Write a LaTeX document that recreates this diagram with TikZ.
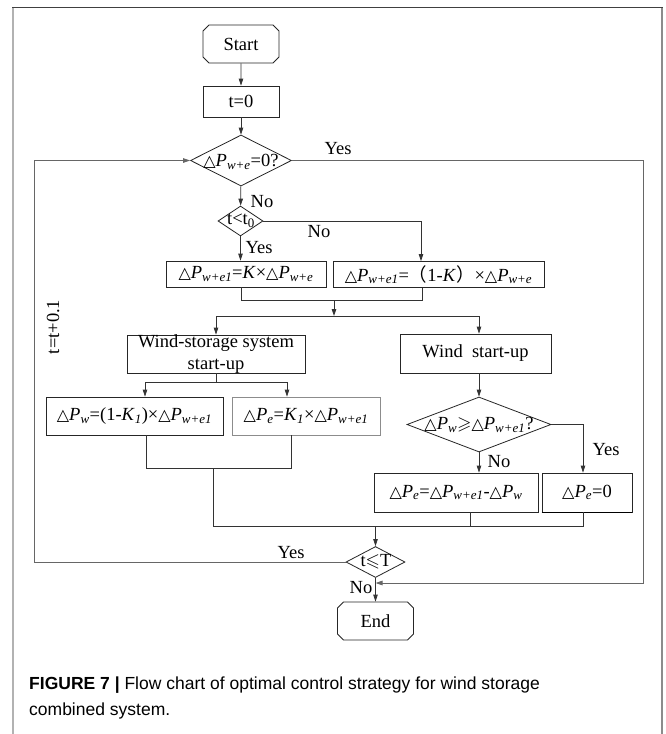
\documentclass[tikz,border=0pt]{standalone}
\usepackage{fontspec}
\usepackage{amssymb}
\setmainfont{Liberation Serif}
\newfontfamily\symfont{DejaVu Sans}
\newfontfamily\capfont{Liberation Sans}
\newfontfamily\cjkfont{Noto Sans CJK SC}
\usetikzlibrary{shapes.geometric,shapes.misc,arrows.meta}
\newcommand\tri{{\symfont\fontsize{16}{18}\selectfont △}}
\newcommand\DP[1]{\tri\textit{P}\textsubscript{\textit{#1}}}
\begin{document}
\begin{tikzpicture}[x=1pt,y=-1pt,
  every node/.style={font=\fontsize{18.5}{21}\selectfont},
  boxn/.style={draw=black!85, line width=0.8pt, rectangle, inner sep=0pt},
  term/.style={draw=black!85, line width=0.8pt, chamfered rectangle, chamfered rectangle xsep=3pt, chamfered rectangle ysep=3pt, inner sep=0pt, minimum width=76pt, minimum height=38pt},
  dia/.style={draw=black!85, line width=0.8pt, diamond, inner sep=0pt},
  lbl/.style={inner sep=0pt},
  line/.style={draw=black!80, line width=0.8pt},
  loopline/.style={draw=black!60, line width=1pt},
  arr/.style={line, -{Triangle[length=7pt,width=4.5pt]}},
]
\useasboundingbox (0,0) rectangle (665,734);
\fill[white] (0,0) rectangle (665,734);
% frame
\draw[black!30, line width=2pt] (13,7) -- (13,734);
\draw[black!45, line width=1.5pt] (662,7) -- (662,734);
\draw[black!75, line width=1pt] (12,7) -- (663,7);

% nodes
\node[term] (start) at (241,44) {Start};
\node[boxn, minimum width=76pt, minimum height=31pt] (t0) at (241,101.5) {t=0};
\node[dia, minimum width=101pt, minimum height=51pt] (d1) at (241,160.5) {};
\node[lbl] (d1t) at (241,162) {\DP{w+e}=0?};
\node[dia, minimum width=45pt, minimum height=30pt] (d2) at (240.5,221) {};
\node[lbl] (d2t) at (241,221) {t<t\textsubscript{0}};
\node[boxn, minimum width=160pt, minimum height=26pt] (b1) at (246,274) {\DP{w+e1}=\textit{K}×\DP{w+e}};
\node[boxn, minimum width=211pt, minimum height=26pt] (b2) at (438.5,274.5) {\DP{w+e1}={\cjkfont （}1-\textit{K}{\cjkfont ）}×\DP{w+e}};
\node[boxn, minimum width=178pt, minimum height=38pt] (ws) at (216,354) {};
\node[lbl] (ws1) at (216,343) {Wind-storage system};
\node[lbl] (ws2) at (216,366) {start-up};
\node[boxn, minimum width=151pt, minimum height=39pt] (wsu) at (475.5,353.5) {Wind\ \ start-up};
\node[boxn, minimum width=177pt, minimum height=38pt] (pw) at (134.5,416) {\DP{w}=(1-\textit{K}\textsubscript{\textit{1}})×\DP{w+e1}};
\node[boxn, draw=black!45, minimum width=148pt, minimum height=38pt] (pe) at (306,416) {\DP{e}=\textit{K}\textsubscript{\textit{1}}×\DP{w+e1}};
\node[dia, minimum width=144pt, minimum height=55pt] (d3) at (479,424.5) {};
\node[lbl] (d3t) at (479,425) {\DP{w}$\geqslant$\DP{w+e1}?};
\node[boxn, minimum width=164pt, minimum height=39pt] (pe2) at (456,492.5) {\DP{e}=\DP{w+e1}-\DP{w}};
\node[boxn, minimum width=90pt, minimum height=39pt] (pe0) at (587,492.5) {\DP{e}=0};
\draw[black, line width=1.6pt] (pe0.south west) -- (pe0.south east);
\node[dia, minimum width=59pt, minimum height=31pt] (d4) at (375.5,562) {};
\node[lbl] (d4t) at (376,562) {t$\leqslant$T};
\node[term] (end) at (375.5,621) {End};

% labels
\node[lbl] (yes1) at (338,149) {Yes};
\node[lbl] (no1) at (262,202) {No};
\node[lbl] (no2) at (319,232) {No};
\node[lbl] (yes2) at (259,248) {Yes};
\node[lbl] (yes3) at (606,450) {Yes};
\node[lbl] (no3) at (499,462) {No};
\node[lbl] (yes4) at (291,553) {Yes};
\node[lbl] (no4) at (361,588) {No};
\node[lbl, rotate=90] (inc) at (53,327) {t=t+0.1};

% junction coordinates
\coordinate (m1) at (241,300);
\coordinate (m2) at (422,300);
\coordinate (m0) at (334,300);
\coordinate (bar) at (334,316);
\coordinate (j2) at (216,382);
\coordinate (j3) at (146,468);
\coordinate (j3b) at (291,468);
\coordinate (j3c) at (213,468);
\coordinate (j5) at (213,526);
\coordinate (j5b) at (375.5,526);
\coordinate (j5c) at (470,526);
\coordinate (j6) at (583,526);
\coordinate (lb) at (34,562);
\coordinate (lt) at (34,160.5);
\coordinate (rt) at (643,160.5);
\coordinate (rb) at (643,583);

% connectors
\draw[arr] (start) -- (t0);
\draw[arr] (t0) -- (d1);
\draw[arr] (d1) -- (d2);
\draw[arr] (d2.south) -- (d2.south |- b1.north);
\draw[arr] (d2.east) -| ([xshift=-17.5pt]b2.north);
\draw[line] ([xshift=-5pt]b1.south) -- (m1) -- (m2) -- ([xshift=-16.5pt]b2.south);
\draw[arr] (m0) -- (bar);
\draw[arr] (bar) -| (ws.north);
\draw[arr] (bar) -| ([xshift=3.5pt]wsu.north);
\draw[line] (ws.south) -- (j2);
\draw[arr] (j2) -| ([xshift=10.5pt]pw.north);
\draw[arr] (j2) -| ([xshift=-19pt]pe.north);
\draw[line] ([xshift=11.5pt]pw.south) -- (j3) -- (j3b) -- ([xshift=-15pt]pe.south);
\draw[line] (j3c) -- (j5);
\draw[arr] ([xshift=3.5pt]wsu.south) -- (d3.north);
\draw[arr] (d3.south) -- (d3.south |- pe2.north);
\draw[arr] (d3.east) -| ([xshift=-4pt]pe0.north);
\draw[line] ([xshift=14pt]pe2.south) -- (j5c);
\draw[line] ([xshift=-4pt]pe0.south) -- (j6) -- (j5);
\draw[arr] (j5b) -- (d4.north);
\draw[arr] (d4.south) -- (end.north);
\draw[loopline, -{Triangle[length=7pt,width=4.5pt]}] (d4.west) -- (lb) -- (lt) -- (d1.west);
\draw[loopline, -{Triangle[length=7pt,width=4.5pt]}] (d1.east) -- (rt) -- (rb) -- (d4.south |- rb);

% caption
\node[lbl, anchor=west, font=\capfont\fontsize{17.5}{21}\selectfont] (cap1) at (29,685) {\textbf{FIGURE 7 |} Flow chart of optimal control strategy for wind storage};
\node[lbl, anchor=west, font=\capfont\fontsize{17.5}{21}\selectfont] (cap2) at (29,711) {combined system.};
\end{tikzpicture}
\end{document}
